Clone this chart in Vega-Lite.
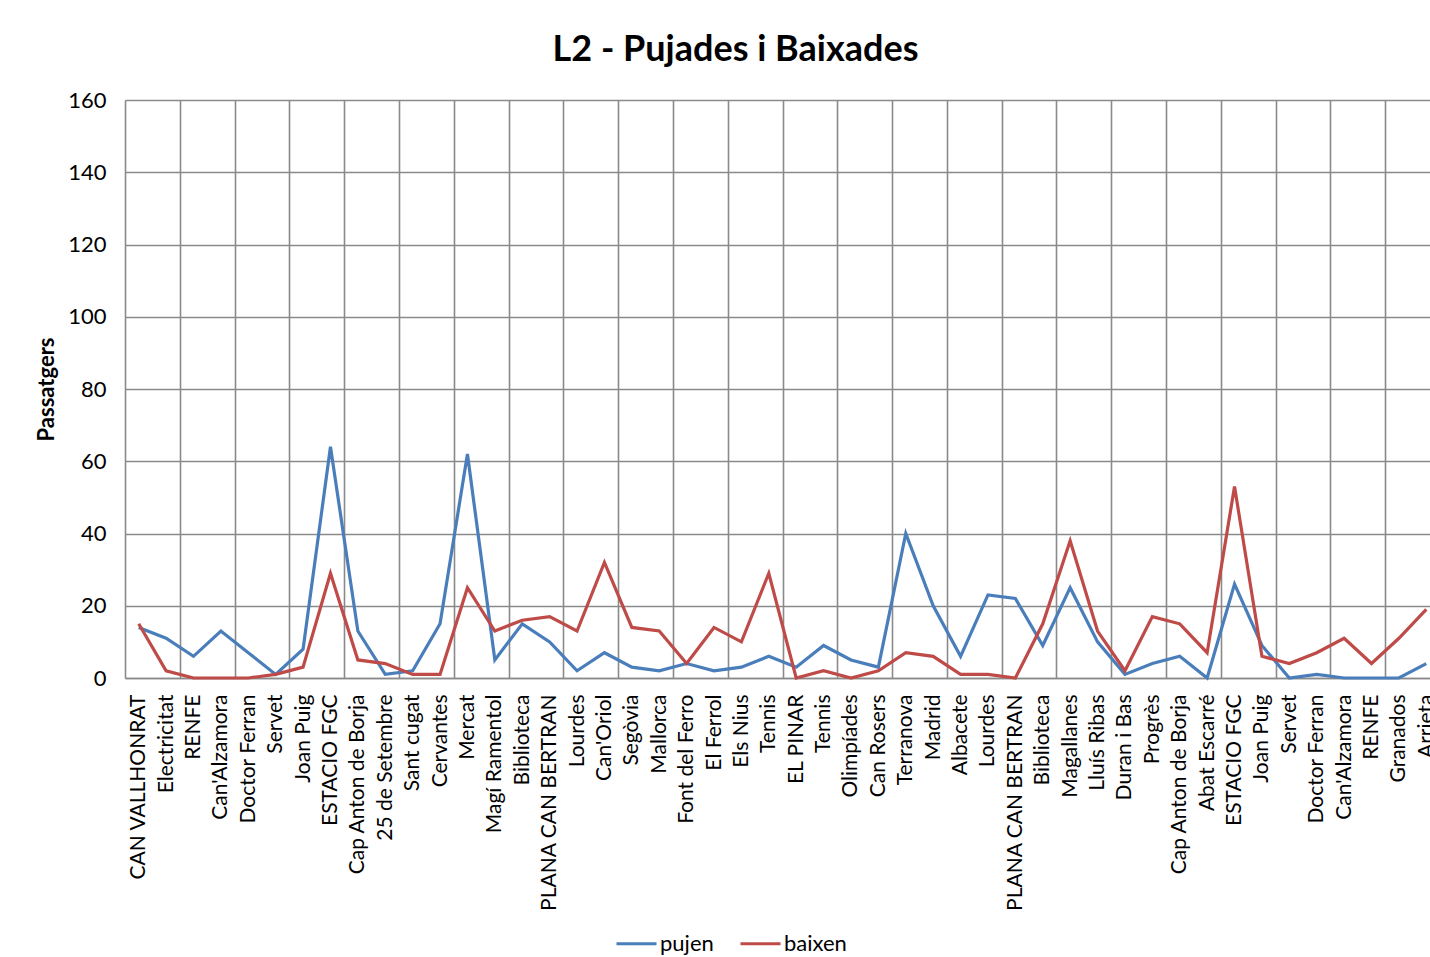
{
  "$schema": "https://vega.github.io/schema/vega-lite/v6.json",
  "autosize": {"type": "none"},
  "padding": {"left": 125, "top": 100, "right": 0, "bottom": 279},
  "width": 1315,
  "height": 578,
  "background": "white",
  "title": {"text": "L2 - Pujades i Baixades", "font": "Lato", "fontSize": 36, "fontWeight": "bold", "color": "#000000", "anchor": "middle", "dx": -47, "offset": 20},
  "config": {"view": {"stroke": null}},
  "data": {"values": [
    {"k": "00 CAN VALLHONRAT", "pujen": 14, "baixen": 15},
    {"k": "01 Electricitat", "pujen": 11, "baixen": 2},
    {"k": "02 RENFE", "pujen": 6, "baixen": 0},
    {"k": "03 Can'Alzamora", "pujen": 13, "baixen": 0},
    {"k": "04 Doctor Ferran", "pujen": 7, "baixen": 0},
    {"k": "05 Servet", "pujen": 1, "baixen": 1},
    {"k": "06 Joan Puig", "pujen": 8, "baixen": 3},
    {"k": "07 ESTACIO FGC", "pujen": 64, "baixen": 29},
    {"k": "08 Cap Anton de Borja", "pujen": 13, "baixen": 5},
    {"k": "09 25 de Setembre", "pujen": 1, "baixen": 4},
    {"k": "10 Sant cugat", "pujen": 2, "baixen": 1},
    {"k": "11 Cervantes", "pujen": 15, "baixen": 1},
    {"k": "12 Mercat", "pujen": 62, "baixen": 25},
    {"k": "13 Magí Ramentol", "pujen": 5, "baixen": 13},
    {"k": "14 Biblioteca", "pujen": 15, "baixen": 16},
    {"k": "15 PLANA CAN BERTRAN", "pujen": 10, "baixen": 17},
    {"k": "16 Lourdes", "pujen": 2, "baixen": 13},
    {"k": "17 Can'Oriol", "pujen": 7, "baixen": 32},
    {"k": "18 Segòvia", "pujen": 3, "baixen": 14},
    {"k": "19 Mallorca", "pujen": 2, "baixen": 13},
    {"k": "20 Font del Ferro", "pujen": 4, "baixen": 4},
    {"k": "21 El Ferrol", "pujen": 2, "baixen": 14},
    {"k": "22 Els Nius", "pujen": 3, "baixen": 10},
    {"k": "23 Tennis", "pujen": 6, "baixen": 29},
    {"k": "24 EL PINAR", "pujen": 3, "baixen": 0},
    {"k": "25 Tennis", "pujen": 9, "baixen": 2},
    {"k": "26 Olimpíades", "pujen": 5, "baixen": 0},
    {"k": "27 Can Rosers", "pujen": 3, "baixen": 2},
    {"k": "28 Terranova", "pujen": 40, "baixen": 7},
    {"k": "29 Madrid", "pujen": 20, "baixen": 6},
    {"k": "30 Albacete", "pujen": 6, "baixen": 1},
    {"k": "31 Lourdes", "pujen": 23, "baixen": 1},
    {"k": "32 PLANA CAN BERTRAN", "pujen": 22, "baixen": 0},
    {"k": "33 Biblioteca", "pujen": 9, "baixen": 15},
    {"k": "34 Magallanes", "pujen": 25, "baixen": 38},
    {"k": "35 Lluís Ribas", "pujen": 10, "baixen": 13},
    {"k": "36 Duran i Bas", "pujen": 1, "baixen": 2},
    {"k": "37 Progrès", "pujen": 4, "baixen": 17},
    {"k": "38 Cap Anton de Borja", "pujen": 6, "baixen": 15},
    {"k": "39 Abat Escarré", "pujen": 0, "baixen": 7},
    {"k": "40 ESTACIO FGC", "pujen": 26, "baixen": 53},
    {"k": "41 Joan Puig", "pujen": 9, "baixen": 6},
    {"k": "42 Servet", "pujen": 0, "baixen": 4},
    {"k": "43 Doctor Ferran", "pujen": 1, "baixen": 7},
    {"k": "44 Can'Alzamora", "pujen": 0, "baixen": 11},
    {"k": "45 RENFE", "pujen": 0, "baixen": 4},
    {"k": "46 Granados", "pujen": 0, "baixen": 11},
    {"k": "47 Arrieta", "pujen": 4, "baixen": 19}
  ]},
  "transform": [{"fold": ["pujen", "baixen"], "as": ["serie", "v"]}],
  "mark": {"type": "line", "strokeWidth": 3.2},
  "encoding": {
    "x": {
      "field": "k", "type": "nominal", "sort": null, "bandPosition": 0.5,
      "scale": {"type": "band", "paddingInner": 0, "paddingOuter": 0},
      "axis": {
        "title": null,
        "labelExpr": "datum.value ? substring(datum.value, 3) : ''",
        "labelAngle": 270, "labelAlign": "right", "labelBaseline": "middle",
        "labelFont": "Lato", "labelFontSize": 21, "labelColor": "#000000",
        "labelPadding": 16, "labelOverlap": false, "labelLimit": 400,
        "ticks": false, "tickBand": "extent",
        "domainColor": "#8a8a8a", "domainWidth": 1.6,
        "grid": true, "gridColor": "#8a8a8a", "gridWidth": 1.6,
        "gridOpacity": {"condition": {"test": "toNumber(substring(datum.value, 0, 2)) % 2 === 1", "value": 1}, "value": 0}
      }
    },
    "y": {
      "field": "v", "type": "quantitative",
      "scale": {"domain": [0, 160], "nice": false},
      "axis": {
        "title": "Passatgers", "titleFont": "Lato", "titleFontSize": 22, "titleFontWeight": "bold", "titleColor": "#000000", "titlePadding": 9,
        "values": [0, 20, 40, 60, 80, 100, 120, 140, 160],
        "labelFont": "Lato", "labelFontSize": 22, "labelColor": "#000000", "labelPadding": 19,
        "ticks": false, "domainColor": "#8a8a8a", "domainWidth": 1.6,
        "grid": true, "gridColor": "#8a8a8a", "gridWidth": 1.6
      }
    },
    "color": {
      "field": "serie", "type": "nominal",
      "scale": {"domain": ["pujen", "baixen"], "range": ["#4a7ebb", "#be4b48"]},
      "legend": {
        "title": null, "orient": "none", "direction": "horizontal",
        "legendX": 490, "legendY": 822,
        "symbolType": "stroke", "symbolSize": 1600, "symbolStrokeWidth": 3,
        "labelFont": "Lato", "labelFontSize": 22, "labelColor": "#000000", "labelOffset": 2,
        "columnPadding": 20
      }
    }
  }
}
